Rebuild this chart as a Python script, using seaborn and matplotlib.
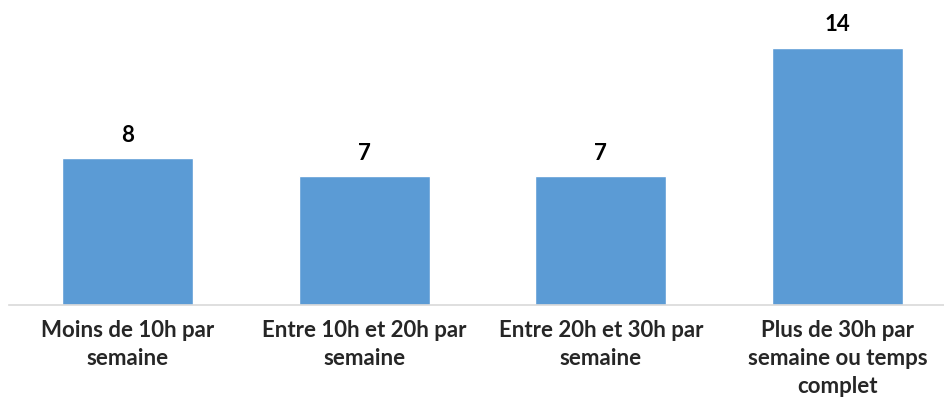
import matplotlib
matplotlib.use("Agg")
import matplotlib.pyplot as plt
import seaborn as sns
import pandas as pd

# Data
categories = [
    "Moins de 10h par\nsemaine",
    "Entre 10h et 20h par\nsemaine",
    "Entre 20h et 30h par\nsemaine",
    "Plus de 30h par\nsemaine ou temps\ncomplet",
]
values = [8, 7, 7, 14]

df = pd.DataFrame({"categorie": categories, "valeur": values})

sns.set_style("white")
plt.rcParams["font.family"] = ["Lato", "DejaVu Sans"]

fig = plt.figure(figsize=(9.44, 4.0), dpi=100)
ax = fig.add_axes([9 / 944, 95 / 400, 935 / 944, 305 / 400])

sns.barplot(data=df, x="categorie", y="valeur", color="#5B9BD5",
            width=0.553, saturation=1, ax=ax)

ax.bar_label(ax.containers[0], fmt="%d", padding=9,
             fontsize=16, fontweight="bold", color="black")

ax.set_ylim(0, 16.6)
ax.set_xlim(-0.5, 3.45)
ax.set_xlabel("")
ax.set_ylabel("")
ax.set_yticks([])
ax.tick_params(axis="x", length=0, pad=11)
for lbl in ax.get_xticklabels():
    lbl.set_fontsize(16)
    lbl.set_fontweight("bold")
    lbl.set_linespacing(1.4)

for side in ["top", "right", "left"]:
    ax.spines[side].set_visible(False)
ax.spines["bottom"].set_color("#D9D9D9")
ax.spines["bottom"].set_linewidth(1.2)

fig.savefig("out.png", dpi=100)
